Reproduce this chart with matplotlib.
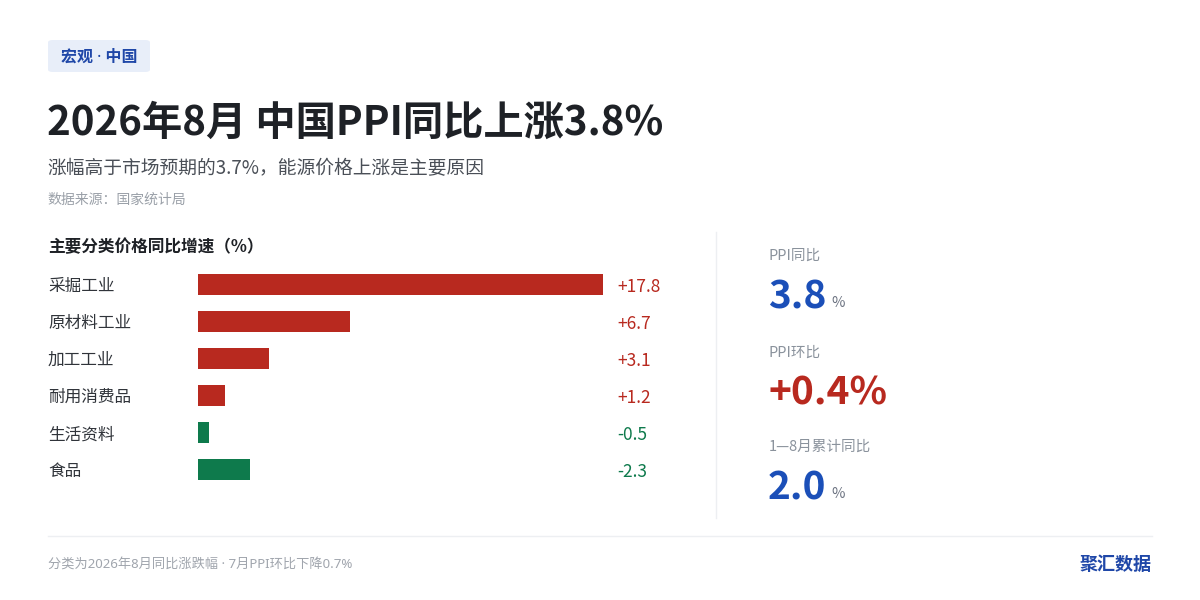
import matplotlib
matplotlib.use('Agg')
import matplotlib.pyplot as plt
from matplotlib.patches import FancyBboxPatch
from matplotlib.transforms import blended_transform_factory

plt.rcParams['font.family'] = ['Noto Sans CJK SC', 'DejaVu Sans']
LATIN_FIRST = ['Noto Sans', 'Noto Sans CJK SC']

categories = ['采掘工业', '原材料工业', '加工工业', '耐用消费品', '生活资料', '食品']
values = [17.8, 6.7, 3.1, 1.2, -0.5, -2.3]
value_labels = ['+17.8', '+6.7', '+3.1', '+1.2', '-0.5', '-2.3']

stat_titles = ['PPI同比', 'PPI环比', '1—8月累计同比']
stat_values = ['3.8', '+0.4%', '2.0']
stat_units = ['%', '', '%']

RED = '#B8291F'
GREEN = '#0E7A4C'
BLUE = '#1B4FB8'

W, H = 1200, 600
fig = plt.figure(figsize=(12, 6), dpi=100)
fig.patch.set_facecolor('white')


def fx(x):
    return x / W


def fy(y):
    return 1 - y / H


# tag
fig.add_artist(FancyBboxPatch((fx(48), fy(72)), fx(102), 32 / H,
                              boxstyle='round,pad=0,rounding_size=0.004',
                              transform=fig.transFigure, fc='#E8EEF9', ec='none'))
fig.text(fx(99), fy(58), '宏观 · 中国', ha='center', va='center', family=LATIN_FIRST,
         fontsize=11.5, fontweight='bold', color='#1F47A8')

fig.text(fx(47), fy(123), '2026年8月 中国PPI同比上涨3.8%', ha='left', va='center',
         fontsize=29, fontweight='bold', color='#1E2126')
fig.text(fx(47), fy(169), '涨幅高于市场预期的3.7%，能源价格上涨是主要原因', ha='left', va='center',
         fontsize=13.5, color='#4A4F57')
fig.text(fx(47), fy(200), '数据来源：国家统计局', ha='left', va='center',
         fontsize=10, color='#9AA0A8')

fig.text(fx(48), fy(247), '主要分类价格同比增速（%）', ha='left', va='center',
         fontsize=12, fontweight='bold', color='#1E2126')

# bar chart
ax = fig.add_axes([fx(198), fy(488), fx(405), 222 / H])
ypos = list(range(len(categories)))
colors = [RED if v >= 0 else GREEN for v in values]
ax.barh(ypos, [abs(v) for v in values], height=0.56, color=colors, left=0)
ax.set_xlim(0, max(abs(v) for v in values))
ax.set_ylim(len(categories) - 0.5, -0.5)
ax.axis('off')

tr = blended_transform_factory(fig.transFigure, ax.transData)
for i, (c, lab, col) in enumerate(zip(categories, value_labels, colors)):
    ax.text(fx(48), i + 0.06, c, transform=tr, ha='left', va='center', fontsize=12, color='#30343A')
    ax.text(fx(617), i + 0.06, lab, transform=tr, ha='left', va='center', fontsize=12.5, color=col)

# dividers
fig.add_artist(plt.Line2D([fx(716), fx(716)], [fy(232), fy(518)],
                          transform=fig.transFigure, color='#EDEFF2', lw=1))
fig.add_artist(plt.Line2D([fx(48), fx(1152)], [fy(536), fy(536)],
                          transform=fig.transFigure, color='#EDEFF2', lw=1))

# right stats
title_y = [256, 353, 447]
value_y = [297, 393, 488]
for t, v, u, ty, vy in zip(stat_titles, stat_values, stat_units, title_y, value_y):
    fig.text(fx(769), fy(ty), t, ha='left', va='center', fontsize=10.5, color='#8A929C')
    col = RED if v.startswith('+') else BLUE
    txt = fig.text(fx(768), fy(vy), v, ha='left', va='center', fontsize=28,
                   fontweight='bold', color=col)
    if u:
        fig.canvas.draw()
        bb = txt.get_window_extent()
        fig.text((bb.x1 + 5) / W, fy(vy + 6), u, ha='left', va='center',
                 fontsize=10.5, color='#6B7280')

fig.text(fx(48), fy(564), '分类为2026年8月同比涨跌幅 · 7月PPI环比下降0.7%', ha='left', va='center',
         family=LATIN_FIRST, fontsize=9.5, color='#A0A5AD')
fig.text(fx(1152), fy(564), '聚汇数据', ha='right', va='center',
         fontsize=13, fontweight='bold', color='#1F47A8')

fig.savefig('out.png', dpi=100, facecolor='white')
